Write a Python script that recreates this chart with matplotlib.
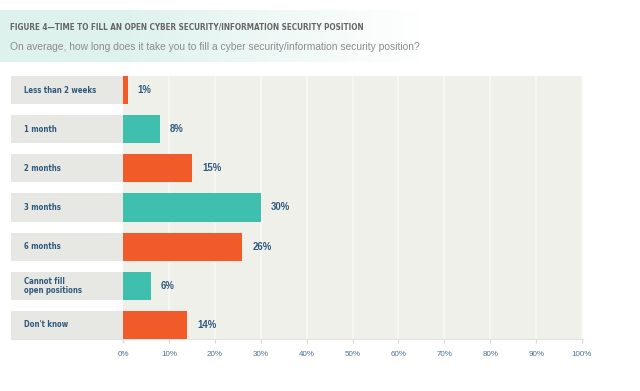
import matplotlib.pyplot as plt
import numpy as np

categories = ["Less than 2 weeks", "1 month", "2 months", "3 months",
              "6 months", "Cannot fill\nopen positions", "Don't know"]
values = [1, 8, 15, 30, 26, 6, 14]
colors = ["#f15a29", "#3fbfad", "#f15a29", "#3fbfad", "#f15a29", "#3fbfad", "#f15a29"]
ticks = [0, 10, 20, 30, 40, 50, 60, 70, 80, 90, 100]
tick_labels = ["%d%%" % t for t in ticks]

TEXT = "#2e5a7d"

fig = plt.figure(figsize=(6.4, 3.91), dpi=100)

# soft mint band behind the title
bg = fig.add_axes([0, 0, 1, 1], zorder=-5)
bg.set_axis_off()
grad = np.ones((1, 640, 4))
teal = np.array([0.87, 0.95, 0.93])
fade = np.clip((420 - np.arange(640)) / 300.0, 0, 1)
grad[0, :, :3] = 1 - (1 - teal) * fade[:, None]
bg.imshow(grad, extent=[0, 640, 329, 381], aspect="auto")
bg.set_xlim(0, 640)
bg.set_ylim(0, 391)

fig.text(10 / 640, 1 - 27 / 391, "FIGURE 4\u2014TIME TO FILL AN OPEN CYBER SECURITY/INFORMATION SECURITY POSITION",
         fontsize=5.9, fontweight="bold", color="#666666", family="DejaVu Sans",
         fontstretch="condensed", va="center")
fig.text(10 / 640, 1 - 47 / 391,
         "On average, how long does it take you to fill a cyber security/information security position?",
         fontsize=7.4, color="#8c8c8c", family="Liberation Sans", va="center")

ax = fig.add_axes([11 / 640, 52 / 391, 572 / 640, 263 / 391])
ax.set_facecolor("white")
y = np.arange(len(categories))
ax.set_xlim(-24.4, 100.2)
ax.set_ylim(len(categories) - 1 + 0.36, -0.36)

ax.axvspan(0, 100.2, color="#f0f0eb", zorder=0)
for t in ticks[1:]:
    ax.axvline(t, color="#f8f8f5", lw=1.2, zorder=1)

# label boxes on the left
ax.barh(y, 24.4, left=-24.4, height=0.72, color="#e7e7e3", zorder=2)
for yi, cat in zip(y, categories):
    ax.text(-21.6, yi, cat, fontsize=5.6, fontweight="bold", color=TEXT,
            family="DejaVu Sans", fontstretch="condensed",
            va="center", ha="left", linespacing=0.95, zorder=4)

ax.barh(y, values, height=0.72, color=colors, zorder=3)
for yi, v in zip(y, values):
    ax.text(v + 2.2, yi, "%d%%" % v, fontsize=6.9, fontweight="bold", color=TEXT,
            family="Liberation Sans", va="center", ha="left", zorder=4)

ax.set_xticks(ticks)
ax.set_xticklabels(tick_labels, fontsize=5.8, color="#4f7391", family="Liberation Sans")
ax.set_yticks([])
ax.tick_params(axis="x", length=3, color="#d8d8d4", pad=6)
for s in ["top", "right", "left"]:
    ax.spines[s].set_visible(False)
ax.spines["bottom"].set_bounds(-24.4, 100.2)
ax.spines["bottom"].set_color("#e2e2de")

fig.savefig("out.png", dpi=100)
